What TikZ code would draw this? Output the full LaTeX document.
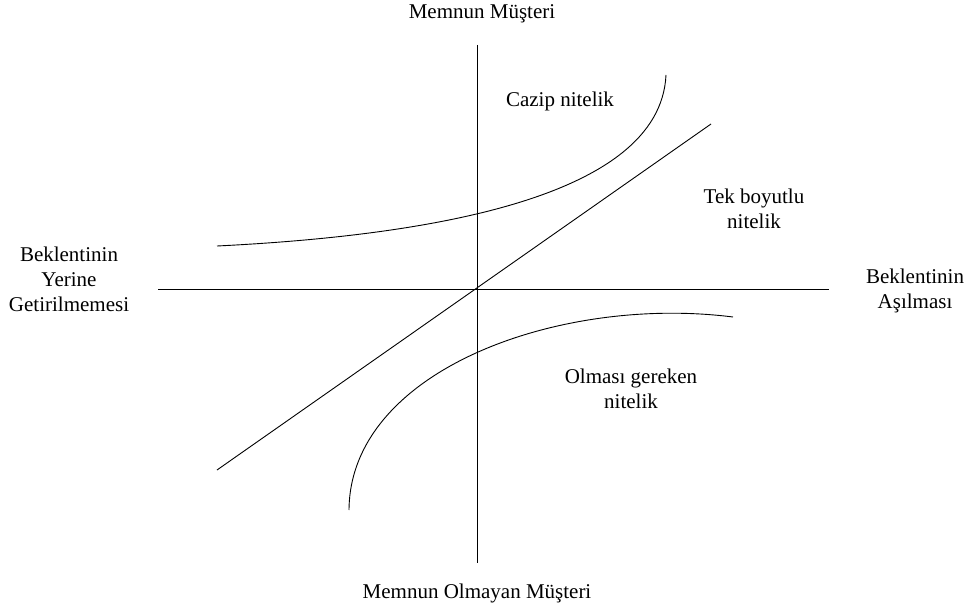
\documentclass[tikz,border=0pt]{standalone}
\usepackage{fontspec}
\setmainfont{Liberation Serif}
\begin{document}
\begin{tikzpicture}[x=1pt,y=-1pt,
  lbl/.style={inner sep=0pt, align=center, font=\fontsize{21}{25}\selectfont},
  curve/.style={line width=0.9pt, black}]
\useasboundingbox (0,0) rectangle (967,610);
% axes
\coordinate (vtop) at (477,45);
\coordinate (vbot) at (477,563);
\coordinate (hl) at (158,289);
\coordinate (hr) at (829,289);
\draw[curve] (vtop) -- (vbot);
\draw[curve] (hl) -- (hr);
% diagonal
\coordinate (dA) at (217,470);
\coordinate (dB) at (711,124);
\draw[curve] (dA) -- (dB);
% attractive curve
\coordinate (uA) at (217,246);
\coordinate (uB) at (666,75);
\draw[curve] (uA) .. controls (420,236) and (660,200) .. (uB);
% must-be curve
\coordinate (lA) at (349,510);
\coordinate (lB) at (733,317);
\draw[curve] (lA) .. controls (350,370) and (560,295) .. (lB);
% labels
\node[lbl] (top) at (482,14) {Memnun Müşteri};
\node[lbl] (bottom) at (477,593) {Memnun Olmayan Müşteri};
\node[lbl] (left) at (69,279) {Beklentinin\\Yerine\\Getirilmemesi};
\node[lbl] (right) at (915,291) {Beklentinin\\Aşılması};
\node[lbl] (cazip) at (560,101) {Cazip nitelik};
\node[lbl] (tek) at (754,209) {Tek boyutlu\\nitelik};
\node[lbl] (olmasi) at (631,389) {Olması gereken\\nitelik};
\end{tikzpicture}
\end{document}
